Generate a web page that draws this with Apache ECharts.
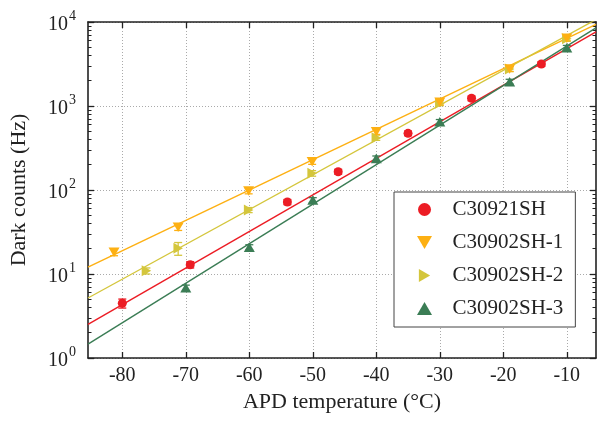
<!DOCTYPE html>
<html><head><meta charset="utf-8">
<script src="https://cdn.jsdelivr.net/npm/echarts@6/dist/echarts.min.js"></script>
<style>html,body{margin:0;padding:0;background:#fff}#c{width:597px;height:421px}</style>
</head><body><div id="c"></div><script>
// ---- data ----
const seriesNames = ['C30921SH', 'C30902SH-1', 'C30902SH-2', 'C30902SH-3'];
const colors = ['#ec1c24', '#fdb013', '#d4c63c', '#3b7d55'];

const redT = [-80, -69.3, -54, -46, -35, -25, -14];
const redV = [4.48, 12.9, 72, 165, 473, 1235, 3160];
const redE = [0.55, 1.1, 5, 11, 30, 80, 200];

const orangeT = [-81.3, -71.2, -60.1, -50.1, -40, -30, -19, -10];
const orangeV = [18.1, 36, 97, 217, 494, 1107, 2756, 6400];
const orangeE = [1.6, 3, 7, 15, 35, 75, 180, 420];

const yellowT = [-76.2, -71.2, -60.1, -50.1, -40, -30, -19, -10];
const yellowV = [10.9, 20.2, 57.8, 158, 420, 1080, 2750, 6300];
const yellowE = [0.9, 3.5, 4, 12, 30, 70, 180, 420];

const greenT = [-70, -60, -50, -40, -30, -19, -10];
const greenV = [6.87, 20.8, 76, 238, 650, 1950, 4940];
const greenE = [0.5, 1.5, 5, 16, 40, 130, 320];

// fitted lines, end values read at the axis limits
const fitX = [-85.4, -5.4];
const redFit = [2.52, 7650];
const orangeFit = [12.1, 9380];
const yellowFit = [5.18, 10700];
const greenFit = [1.46, 8530];

const xTicks = [-80, -70, -60, -50, -40, -30, -20, -10];
const yMajor = [1, 10, 100, 1000, 10000];
const yMinorMult = [2, 3, 4, 5, 6, 7, 8, 9];
const yDecades = [1, 10, 100, 1000];

const xMin = -85.4, xMax = -5.4;

// ---- build ----
const FONT = "'Liberation Serif', 'DejaVu Serif', serif";
const yMinor = [];
yDecades.forEach(d => yMinorMult.forEach(m => yMinor.push(d * m)));

const pts = (t, v) => t.map((x, i) => [x, v[i]]);
const errs = (t, v, e) => t.map((x, i) => [x, v[i] - e[i], v[i] + e[i]]);
const fit = (f) => fitX.map((x, i) => [x, f[i]]);

const groups = [
  { name: seriesNames[0], t: redT, v: redV, e: redE, f: redFit, c: colors[0], sym: 'circle', size: 9 },
  { name: seriesNames[1], t: orangeT, v: orangeV, e: orangeE, f: orangeFit, c: colors[1], sym: 'path://M0,0L2,0L1,1.73Z', size: 11 },
  { name: seriesNames[2], t: yellowT, v: yellowV, e: yellowE, f: yellowFit, c: colors[2], sym: 'path://M0,0L1.73,1L0,2Z', size: 11 },
  { name: seriesNames[3], t: greenT, v: greenV, e: greenE, f: greenFit, c: colors[3], sym: 'path://M1,0L2,1.73L0,1.73Z', size: 11 }
];
const drawOrder = [2, 0, 3, 1];

const series = [];
groups.forEach(g => {
  series.push({
    type: 'line', data: fit(g.f), showSymbol: false, silent: true, z: 2,
    lineStyle: { color: g.c, width: 1.4 }, clip: true, xAxisIndex: 0, yAxisIndex: 0
  });
});
drawOrder.forEach(i => {
  const g = groups[i];
  series.push({
    type: 'custom', silent: true, z: 3, xAxisIndex: 0, yAxisIndex: 0,
    data: errs(g.t, g.v, g.e),
    renderItem: function (params, api) {
      const x = api.value(0);
      const a = api.coord([x, api.value(1)]);
      const b = api.coord([x, api.value(2)]);
      const w = 4;
      const st = { stroke: g.c, lineWidth: 1.3 };
      return { type: 'group', children: [
        { type: 'line', shape: { x1: a[0], y1: a[1], x2: b[0], y2: b[1] }, style: st },
        { type: 'line', shape: { x1: a[0] - w, y1: a[1], x2: a[0] + w, y2: a[1] }, style: st },
        { type: 'line', shape: { x1: b[0] - w, y1: b[1], x2: b[0] + w, y2: b[1] }, style: st }
      ] };
    }
  });
  series.push({
    type: 'scatter', name: g.name, data: pts(g.t, g.v), z: 4,
    symbol: g.sym, symbolSize: g.size, symbolKeepAspect: true,
    itemStyle: { color: g.c, opacity: 1 }, xAxisIndex: 0, yAxisIndex: 0
  });
});

const axisLine = { show: true, onZero: false, lineStyle: { color: '#222', width: 1.6 } };
const dotted = { show: true, lineStyle: { color: '#aaaaaa', width: 1, type: [1, 2] } };

const option = {
  animation: false,
  backgroundColor: '#fff',
  grid: { left: 83, top: 22, right: 1, bottom: 63, containLabel: false },
  legend: {
    orient: 'vertical', left: 394, top: 192,
    padding: [7, 12, 8, 23],
    itemWidth: 46, itemHeight: 13, itemGap: 12,
    borderColor: '#444', borderWidth: 1, backgroundColor: '#fff',
    textStyle: { fontFamily: FONT, fontSize: 21, lineHeight: 21, color: '#222' },
    data: groups.map(g => ({ name: g.name, icon: g.sym })),
    selectedMode: false
  },
  xAxis: [
    {
      type: 'value', position: 'bottom', min: xMin, max: xMax,
      axisLine: axisLine,
      axisTick: { show: true, inside: true, length: 6, customValues: xTicks, lineStyle: { color: '#222', width: 1.3 } },
      axisLabel: { customValues: xTicks, fontFamily: FONT, fontSize: 20, color: '#222', margin: 8 },
      splitLine: dotted,
      name: 'APD temperature (°C)', nameLocation: 'middle', nameGap: 33,
      nameTextStyle: { fontFamily: FONT, fontSize: 22, color: '#222' }
    },
    {
      type: 'value', position: 'top', min: xMin, max: xMax,
      axisLine: axisLine,
      axisTick: { show: true, inside: true, length: 6, customValues: xTicks, lineStyle: { color: '#222', width: 1.3 } },
      axisLabel: { show: false }, splitLine: { show: false }
    }
  ],
  yAxis: [
    {
      type: 'log', logBase: 10, position: 'left', min: 1, max: 10000,
      axisLine: axisLine,
      axisTick: { show: true, inside: true, length: 6, customValues: yMajor, lineStyle: { color: '#222', width: 1.3 } },
      axisLabel: {
        customValues: yMajor, margin: 12, color: '#222',
        formatter: function (v) { return '{b|10}{s|' + Math.round(Math.log10(v)) + '}'; },
        rich: {
          b: { fontFamily: FONT, fontSize: 20, color: '#222', padding: [6, 0, 0, 0] },
          s: { fontFamily: FONT, fontSize: 14, color: '#222', padding: [0, 0, 12, 1] }
        }
      },
      splitLine: dotted,
      name: 'Dark counts (Hz)', nameLocation: 'middle', nameGap: 58, nameRotate: 90,
      nameTextStyle: { fontFamily: FONT, fontSize: 22, color: '#222' }
    },
    {
      type: 'log', logBase: 10, position: 'left', min: 1, max: 10000,
      axisLine: { show: false },
      axisTick: { show: true, inside: true, length: 3.5, customValues: yMinor, lineStyle: { color: '#222', width: 1 } },
      axisLabel: { show: false }, splitLine: { show: false }
    },
    {
      type: 'log', logBase: 10, position: 'right', min: 1, max: 10000,
      axisLine: axisLine,
      axisTick: { show: true, inside: true, length: 6, customValues: yMajor, lineStyle: { color: '#222', width: 1.3 } },
      axisLabel: { show: false }, splitLine: { show: false }
    },
    {
      type: 'log', logBase: 10, position: 'right', min: 1, max: 10000,
      axisLine: { show: false },
      axisTick: { show: true, inside: true, length: 3.5, customValues: yMinor, lineStyle: { color: '#222', width: 1 } },
      axisLabel: { show: false }, splitLine: { show: false }
    }
  ],
  series: series
};

const chart = echarts.init(document.getElementById('c'), null, { renderer: 'canvas' });
chart.setOption(option);
</script></body></html>
